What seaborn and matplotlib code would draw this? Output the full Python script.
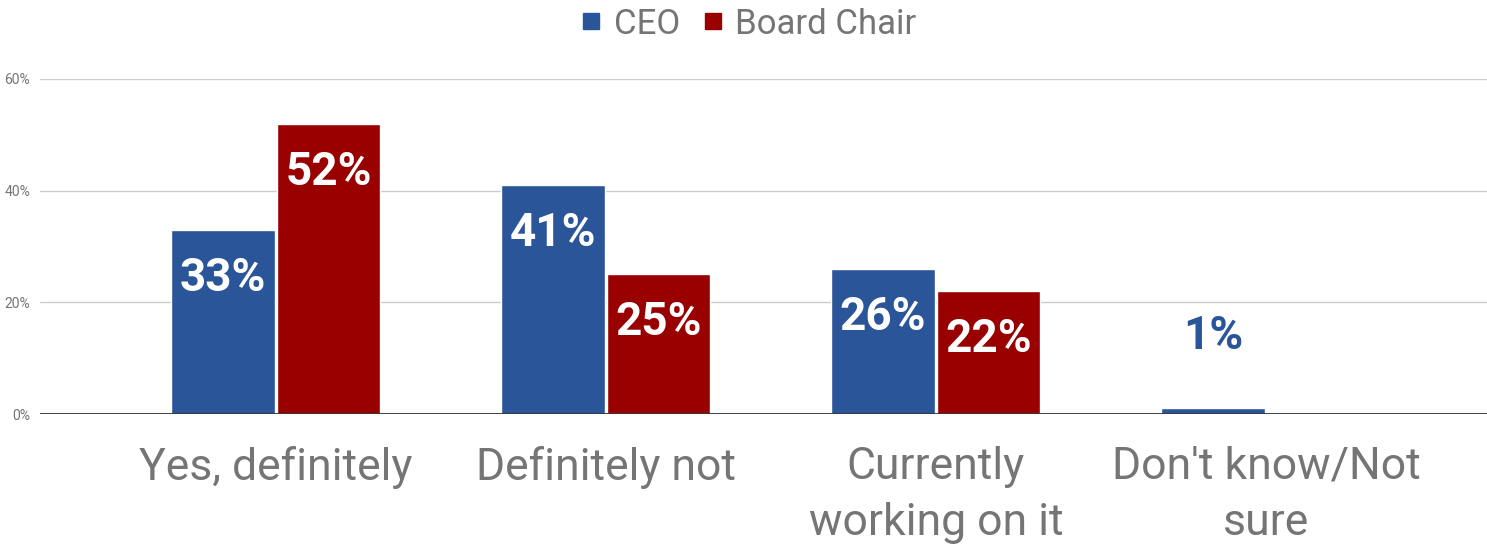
import matplotlib
matplotlib.use("Agg")
import matplotlib.pyplot as plt
import seaborn as sns
import pandas as pd
from matplotlib.lines import Line2D

# Survey answers by respondent role
categories = ["Yes, definitely", "Definitely not", "Currently\nworking on it", "Don't know/Not\nsure"]
series = ["CEO", "Board Chair"]
ceo = [33, 41, 26, 1]
board_chair = [52, 25, 22, 0]
yticks = [0, 20, 40, 60]
ytick_labels = ["0%", "20%", "40%", "60%"]

palette = {"CEO": "#2a5599", "Board Chair": "#990000"}
label_gray = "#757575"

df = pd.DataFrame({
    "category": categories * 2,
    "value": ceo + board_chair,
    "series": [series[0]] * len(categories) + [series[1]] * len(categories),
})

sns.set_theme(style="white")
plt.rcParams["font.family"] = ["Roboto", "DejaVu Sans"]

W, H = 1487, 544
fig = plt.figure(figsize=(W / 100, H / 100), dpi=100)
ax = fig.add_axes([40 / W, (H - 414) / H, 1 - 40 / W, (414 - 79) / H])

sns.barplot(data=df, x="category", y="value", hue="series", order=categories,
            hue_order=series, palette=palette, width=0.64, gap=0.02,
            saturation=1, legend=False, ax=ax, zorder=3)

ax.set_ylim(0, 60)
ax.set_xlim(-0.715, 3.67)
ax.set_xlabel("")
ax.set_ylabel("")
for s in ax.spines.values():
    s.set_visible(False)

ax.set_yticks(yticks)
ax.set_yticklabels(ytick_labels)
ax.yaxis.grid(True, color="#cccccc", linewidth=1, zorder=0)
ax.set_axisbelow(True)
ax.axhline(0, color="#333333", linewidth=1.3, zorder=4)
ax.tick_params(axis="y", length=0, pad=7, labelsize=10, labelcolor=label_gray)
ax.tick_params(axis="x", length=0, pad=23, labelsize=32, labelcolor=label_gray)
for lbl in ax.get_xticklabels():
    lbl.set_linespacing(1.42)

# Value labels: inside the bar top, or above the bar for very short bars
for container, name in zip(ax.containers, series):
    for bar in container:
        v = bar.get_height()
        if v <= 0:
            continue
        x = bar.get_x() + bar.get_width() / 2
        if v < 5:
            ax.annotate(f"{v:.0f}%", (x, v), xytext=(0, 52), textcoords="offset points",
                        ha="center", va="center", fontsize=33, fontweight="bold",
                        color=palette[name], zorder=5)
        else:
            ax.annotate(f"{v:.0f}%", (x, v), xytext=(0, -34.5), textcoords="offset points",
                        ha="center", va="center", fontsize=33, fontweight="bold",
                        color="white", zorder=5)

handles = [Line2D([], [], marker="s", linestyle="none", markersize=12,
                  markerfacecolor=palette[s], markeredgecolor=palette[s]) for s in series]
fig.legend(handles, series, loc="center", bbox_to_anchor=(749.5 / W, 1 - 24 / H),
           ncol=2, frameon=False, fontsize=25, handlelength=0.5,
           handletextpad=0.4, columnspacing=0.7, labelcolor=label_gray)

fig.savefig("out.png", dpi=100)
